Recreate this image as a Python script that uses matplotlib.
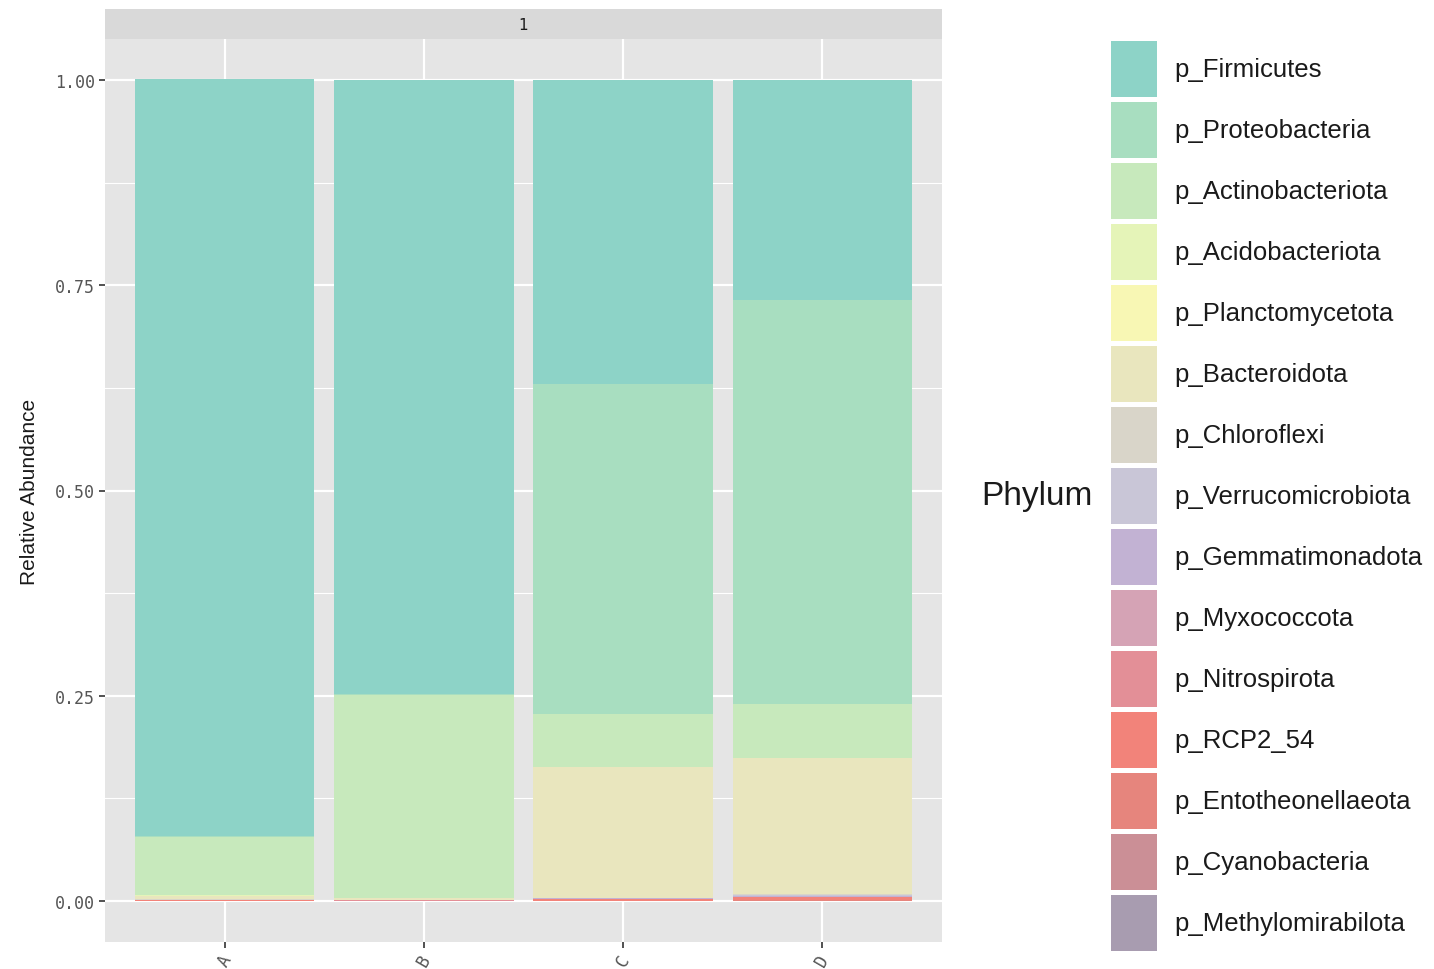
import numpy as np
import matplotlib.pyplot as plt
from matplotlib.patches import Rectangle

samples = ["A", "B", "C", "D"]
phyla = ["p_Firmicutes", "p_Proteobacteria", "p_Actinobacteriota",
         "p_Acidobacteriota", "p_Planctomycetota", "p_Bacteroidota",
         "p_Chloroflexi", "p_Verrucomicrobiota", "p_Gemmatimonadota",
         "p_Myxococcota", "p_Nitrospirota", "p_RCP2_54",
         "p_Entotheonellaeota", "p_Cyanobacteria", "p_Methylomirabilota"]
colors = ["#8DD3C7", "#A8DEC0", "#C7E9BC", "#E5F4B8", "#F8F7B4", "#E9E6BE",
          "#D9D5C9", "#C9C6D7", "#C2B2D3", "#D5A3B5", "#E38F97", "#F2837A",
          "#E6857D", "#CB8F96", "#A89CB0"]
# relative abundance per phylum, samples A..D
abund = {
    "p_Firmicutes":        [0.922, 0.748, 0.370, 0.268],
    "p_Proteobacteria":    [0.001, 0.001, 0.403, 0.492],
    "p_Actinobacteriota":  [0.071, 0.247, 0.064, 0.065],
    "p_Acidobacteriota":   [0.0005, 0.0004, 0.0003, 0.0003],
    "p_Planctomycetota":   [0.0005, 0.0003, 0.0003, 0.0003],
    "p_Bacteroidota":      [0.004, 0.002, 0.159, 0.166],
    "p_Chloroflexi":       [0.0003, 0.0002, 0.0002, 0.0003],
    "p_Verrucomicrobiota": [0.0003, 0.0002, 0.0003, 0.002],
    "p_Gemmatimonadota":   [0.0002, 0.0001, 0.0002, 0.0003],
    "p_Myxococcota":       [0.0002, 0.0001, 0.0002, 0.0003],
    "p_Nitrospirota":      [0.0002, 0.0001, 0.0002, 0.0003],
    "p_RCP2_54":           [0.0003, 0.0002, 0.002, 0.004],
    "p_Entotheonellaeota": [0.0002, 0.0001, 0.0002, 0.0003],
    "p_Cyanobacteria":     [0.0002, 0.0001, 0.0002, 0.0003],
    "p_Methylomirabilota": [0.0001, 0.0001, 0.0001, 0.0002],
}
yticks = [0.00, 0.25, 0.50, 0.75, 1.00]

NARROW = ["Liberation Sans", "DejaVu Sans"]
W, H = 1434, 970
fig = plt.figure(figsize=(W / 100, H / 100), dpi=100)
fig.patch.set_facecolor("white")

# main panel (pixel box 105..942 x 40..943)
ax = fig.add_axes([105 / W, 1 - 943 / H, (942 - 105) / W, (943 - 40) / H])
ax.set_facecolor("#E5E5E5")
x = np.arange(1, len(samples) + 1)
bottom = np.zeros(len(samples))
for name, col in zip(phyla[::-1], colors[::-1]):
    v = np.array(abund[name])
    ax.bar(x, v, bottom=bottom, width=0.9, color=col, linewidth=0, zorder=3)
    bottom += v
ax.set_xlim(0.4, 4.6)
ax.set_ylim(-0.05, 1.05)
ax.set_yticks(yticks)
ax.set_yticklabels([f"{t:.2f}" for t in yticks])
ax.set_yticks([0.125, 0.375, 0.625, 0.875], minor=True)
ax.set_xticks(x)
ax.set_xticklabels(samples, rotation=60, ha="center", va="top")
ax.grid(which="major", color="white", lw=1.6, zorder=0)
ax.grid(which="minor", axis="y", color="white", lw=0.8, zorder=0)
for s in ax.spines.values():
    s.set_visible(False)
ax.tick_params(which="major", length=4, color="#333333", width=1.2,
               labelsize=12, labelcolor="#555555", pad=3)
ax.tick_params(which="minor", length=0)
for lab in ax.get_yticklabels() + ax.get_xticklabels():
    lab.set_family("DejaVu Sans Mono")
ax.set_ylabel("Relative Abundance", fontsize=15, color="#1A1A1A",
              family=NARROW, labelpad=12)

# facet strip
sax = fig.add_axes([105 / W, 1 - 40 / H, (942 - 105) / W, 30 / H])
sax.set_facecolor("#D9D9D9")
sax.set_xticks([]); sax.set_yticks([])
for s in sax.spines.values():
    s.set_visible(False)
sax.text(0.5, 0.5, "1", ha="center", va="center", fontsize=11,
         color="#1A1A1A", transform=sax.transAxes)

# legend
lax = fig.add_axes([0, 0, 1, 1], facecolor="none")
lax.set_xlim(0, W); lax.set_ylim(H, 0); lax.axis("off")
key_h, step, top = 56, 61.0, 42
for i, (name, col) in enumerate(zip(phyla, colors)):
    y0 = top + i * step
    lax.add_patch(Rectangle((1111, y0), 46, key_h, facecolor=col,
                            edgecolor="none"))
    lax.text(1174, y0 + key_h / 2, name, ha="left", va="center",
             fontsize=18.5, color="#1A1A1A", family=NARROW)
lax.text(1093, 497, "Phylum", ha="right", va="center", fontsize=24,
         color="#1A1A1A", family=NARROW)

fig.savefig("out.png", dpi=100)
